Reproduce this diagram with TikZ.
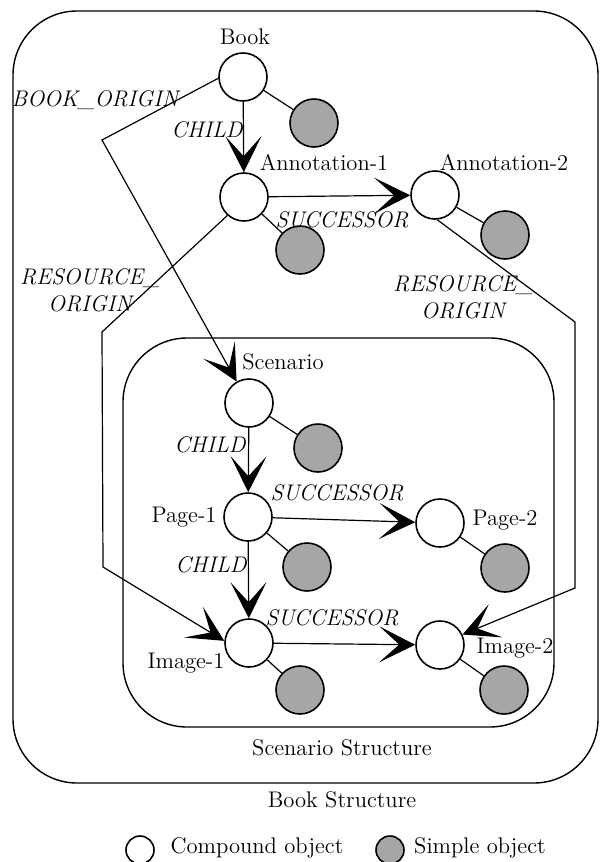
\documentclass[tikz,border=0pt]{standalone}
\usepackage{fontspec}
\usetikzlibrary{arrows.meta}
\tikzset{
	every path/.style={line width=0.6pt},
	compound/.style={
		draw,
		circle,
		minimum size=24pt,
		inner sep=0pt,
		line width=0.8pt,
		fill=white,
	},
	simple/.style={
		compound,
		fill=black!35,
	},
	link/.style={
		-{Stealth[length=18pt,width=18pt,inset=10pt]}
	},
	linklabel/.style={font=\itshape},
	structure/.style={
		draw,
		rectangle,
		rounded corners=32pt,
		inner sep=0pt,
		line width=0.7pt,
	},
}

\begin{document}
\fontsize{11.3}{13.5}\selectfont
\begin{tikzpicture}[x=0.5pt,y=-0.5pt]
		\useasboundingbox (0,0) rectangle (600,862);

		\node[structure,minimum width=292.5pt,minimum height=386pt] (bookbox) at (305.5,397) {};
		\node[structure,minimum width=215.5pt,minimum height=194.5pt] (scenbox) at (338.5,532.5) {};

		\node[compound] (book) at (243,77) {};
		\node[simple] (booksimple) at (314,123) {};
		\node[compound] (annot1) at (244,197) {};
		\node[simple] (annot1simple) at (300,250) {};
		\node[compound] (annot2) at (435,195) {};
		\node[simple] (annot2simple) at (505,235) {};
		\node[compound] (scen) at (249,403) {};
		\node[simple] (scensimple) at (318,448) {};
		\node[compound] (page1) at (248,517) {};
		\node[simple] (page1simple) at (307,567) {};
		\node[compound] (page2) at (440,523) {};
		\node[simple] (page2simple) at (505,568) {};
		\node[compound] (image1) at (249,643) {};
		\node[simple] (image1simple) at (300,690) {};
		\node[compound] (image2) at (440,645) {};
		\node[simple] (image2simple) at (504,690) {};

		% object names
		\node (booklabel) at (245,37) {Book};
		\node (annot1label) at (324,163) {Annotation-1};
		\node (annot2label) at (504,163) {Annotation-2};
		\node (scenlabel) at (283,362) {Scenario};
		\node (page1label) at (184,517) {Page-1};
		\node (page2label) at (505,520) {Page-2};
		\node (image1label) at (186,663) {Image-1};
		\node (image2label) at (515,648) {Image-2};

		% link names
		\node[linklabel] (bookorigin) at (95,100) {BOOK\_ORIGIN};
		\node[linklabel] (child1) at (207,130) {CHILD};
		\node[linklabel] (succ1) at (342,220) {SUCCESSOR};
		\node[linklabel,align=center] (resleftlabel) at (90,290) {RESOURCE\_\\ORIGIN};
		\node[linklabel,align=center] (resrightlabel) at (463,297) {RESOURCE\_\\ORIGIN};
		\node[linklabel] (child2) at (210,445) {CHILD};
		\node[linklabel] (succ2) at (337,493) {SUCCESSOR};
		\node[linklabel] (child3) at (211,565) {CHILD};
		\node[linklabel] (succ3) at (332,618) {SUCCESSOR};

		\node (scenboxlabel) at (342,748) {Scenario Structure};
		\node (bookboxlabel) at (342,800) {Book Structure};

		\coordinate (bookbend) at (102,140);
		\coordinate (resleft1) at (102,332);
		\coordinate (resleft2) at (103,567);
		\coordinate (resright1) at (575,322);
		\coordinate (resright2) at (575,588);

		\draw (book) -- (booksimple);
		\draw (annot1) -- (annot1simple);
		\draw (annot2) -- (annot2simple);
		\draw (scen) -- (scensimple);
		\draw (page1) -- (page1simple);
		\draw (page2) -- (page2simple);
		\draw (image1) -- (image1simple);
		\draw (image2) -- (image2simple);

		\draw[link] (book) -- (annot1);
		\draw[link] (annot1) -- (annot2);
		\draw[link] (book.183) -- (bookbend) -- (scen.120);
		\draw[link] (annot1.228) -- (resleft1) -- (resleft2) -- (image1.175);
		\draw[link] (annot2.-85) -- (resright1) -- (resright2) -- (image2.25);
		\draw[link] (scen) -- (page1);
		\draw[link] (page1) -- (page2);
		\draw[link] (page1) -- (image1);
		\draw[link] (image1) -- (image2);

		% legend
		\node[compound,minimum size=14pt] (legcompound) at (140,850) {};
		\node (legcompoundtext) at (257,848) {Compound object};
		\node[simple,minimum size=14pt] (legsimple) at (390,850) {};
		\node (legsimpletext) at (480,848) {Simple object};

	\end{tikzpicture}
\end{document}
